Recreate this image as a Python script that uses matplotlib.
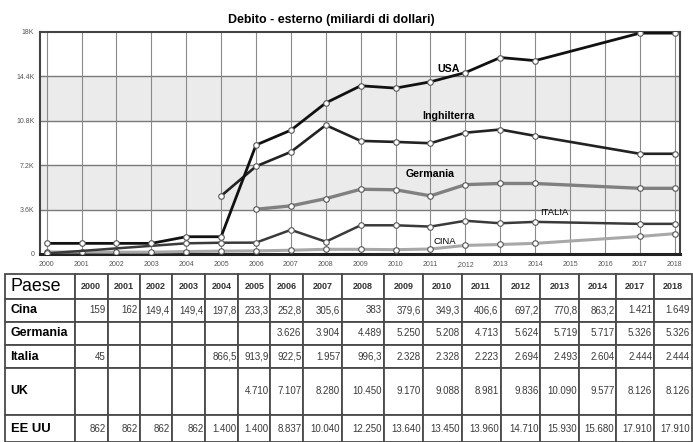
import numpy as np
import matplotlib
matplotlib.use('Agg')
import matplotlib.pyplot as plt
from matplotlib import font_manager

installed = {f.name for f in font_manager.fontManager.ttflist}
HAS_NARROW = 'Liberation Sans Narrow' in installed
NARROW = ['Liberation Sans Narrow' if HAS_NARROW else 'Liberation Sans', 'DejaVu Sans']
SHRINK = 1.0 if HAS_NARROW else 0.85
plt.rcParams['font.family'] = NARROW

# x axis of the chart (2015 and 2016 have no data)
years = list(range(2000, 2019))
year_labels = ['2000', '2001', '2002', '2003', '2004', '2005', '2006', '2007',
               '2008', '2009', '2010', '2011', ',2012', '2013', '2014', '2015',
               '2016', '2017', '2018']

# years present in the table
table_years = [2000, 2001, 2002, 2003, 2004, 2005, 2006, 2007, 2008, 2009,
               2010, 2011, 2012, 2013, 2014, 2017, 2018]

nan = np.nan
cina = [159, 162, 149.4, 149.4, 197.8, 233.3, 252.8, 305.6, 383, 379.6,
        349.3, 406.6, 697.2, 770.8, 863.2, 1421, 1649]
germania = [nan, nan, nan, nan, nan, nan, 3626, 3904, 4489, 5250, 5208,
            4713, 5624, 5719, 5717, 5326, 5326]
italia = [45, nan, nan, nan, 866.5, 913.9, 922.5, 1957, 996.3, 2328, 2328,
          2223, 2694, 2493, 2604, 2444, 2444]
uk = [nan, nan, nan, nan, nan, 4710, 7107, 8280, 10450, 9170, 9088, 8981,
      9836, 10090, 9577, 8126, 8126]
usa = [862, 862, 862, 862, 1400, 1400, 8837, 10040, 12250, 13640, 13450,
       13960, 14710, 15930, 15680, 17910, 17910]

row_names = ['Cina', 'Germania', 'Italia', 'UK', 'EE UU']
rows = [cina, germania, italia, uk, usa]

y_ticks = [0, 3600, 7200, 10800, 14400, 18000]
y_tick_labels = ['0', '3.6K', '7.2K', '10.8K', '14.4K', '18K']


def fmt(v):
    # italian number style: 1.421 / 149,4
    if np.isnan(v):
        return ''
    if v >= 1000:
        return f'{int(round(v)):,}'.replace(',', '.')
    if float(v).is_integer():
        return str(int(v))
    return f'{v:.1f}'.replace('.', ',')


W, H = 693, 442
fig = plt.figure(figsize=(W / 100, H / 100), dpi=100)

# ---- line chart ----
ax = fig.add_axes([40 / W, 1 - 254 / H, 640 / W, 222 / H])
ax.set_xlim(2000 - 0.19, 2018 + 0.15)
ax.set_ylim(0, 18000)

for lo, hi in [(3600, 7200), (10800, 14400)]:
    ax.axhspan(lo, hi, color='#ebebeb', zorder=0, lw=0)
for t in y_ticks[1:-1]:
    ax.axhline(t, color='#7a7a7a', lw=1.0, zorder=1)
for yr in years:
    ax.axvline(yr, color='#8a8a8a', lw=0.8, zorder=1)

series_style = [
    # data, colour, width
    (cina, '#a8a8a8', 2.2),
    (italia, '#3a3a3a', 1.8),
    (germania, '#808080', 2.4),
    (uk, '#222222', 1.9),
    (usa, '#111111', 2.0),
]
tx = np.array(table_years)
for data, col, lw in series_style:
    d = np.array(data, dtype=float)
    ok = ~np.isnan(d)
    ax.plot(tx[ok], d[ok], color=col, lw=lw, zorder=3,
            marker='o', ms=4, mfc='white', mec='#555555', mew=0.8)

lab = 9 * SHRINK
ax.text(2011.53, 15000, 'USA', fontsize=lab, fontweight='bold',
        ha='center', va='center', zorder=4)
ax.text(2011.5, 11200, 'Inghilterra', fontsize=lab, fontweight='bold',
        ha='center', va='center', zorder=4)
ax.text(2011.0, 6480, 'Germania', fontsize=lab, fontweight='bold',
        ha='center', va='center', zorder=4)
ax.text(2014.54, 3390, 'ITALIA', fontsize=8 * SHRINK, ha='center',
        va='center', zorder=4)
ax.text(2011.41, 1030, 'CINA', fontsize=8 * SHRINK, ha='center',
        va='center', zorder=4)

ax.set_yticks(y_ticks)
ax.set_yticklabels(y_tick_labels)
ax.set_xticks(years)
ax.set_xticklabels(year_labels)
ax.tick_params(axis='both', length=0, labelsize=5, colors='#555555')
ax.tick_params(axis='y', pad=4)
ax.tick_params(axis='x', pad=5)
for side in ['left', 'top', 'right']:
    ax.spines[side].set_color('#444444')
    ax.spines[side].set_linewidth(1.5)
ax.spines['bottom'].set_color('#222222')
ax.spines['bottom'].set_linewidth(2.2)

fig.text(331 / W, 1 - 20 / H, 'Debito - esterno (miliardi di dollari)',
         fontsize=10.5 * SHRINK, fontweight='bold', ha='center', va='center')

# ---- table ----
tax = fig.add_axes([5 / W, 0, 687 / W, 168 / H])
tax.axis('off')

cell_text = [['Paese'] + [str(y) for y in table_years]]
for name, data in zip(row_names, rows):
    cell_text.append([name] + [fmt(v) for v in data])

col_px = [70, 33, 32, 32, 34, 33, 32, 33, 39, 42, 39, 39, 39, 40, 39, 37, 38, 38]
row_px = [25, 23, 23, 23, 47, 27]
tot_w, tot_h = sum(col_px), sum(row_px)

tbl = tax.table(cellText=cell_text, colWidths=[c / tot_w for c in col_px],
                bbox=[0, 0, 1, 1], cellLoc='right')
tbl.auto_set_font_size(False)
for (r, c), cell in tbl.get_celld().items():
    cell.set_height(row_px[r] / tot_h)
    cell.set_edgecolor('#4a4a4a')
    cell.set_linewidth(1.3)
    t = cell.get_text()
    if c == 0:
        cell._loc = 'left'
        t.set_ha('left')
        cell.PAD = 0.08
        if r == 0:
            t.set_fontsize(14 * SHRINK + 1)
        else:
            t.set_fontsize((10.5 if r < 5 else 11) * SHRINK)
            t.set_fontweight('bold')
    elif r == 0:
        cell._loc = 'center'
        t.set_ha('center')
        t.set_fontsize(6.5)
        t.set_fontweight('bold')
        t.set_color('#333333')
    else:
        cell.PAD = 0.05
        t.set_fontsize(7)
        t.set_color('#3a3a3a')

fig.savefig('out.png', dpi=100)
